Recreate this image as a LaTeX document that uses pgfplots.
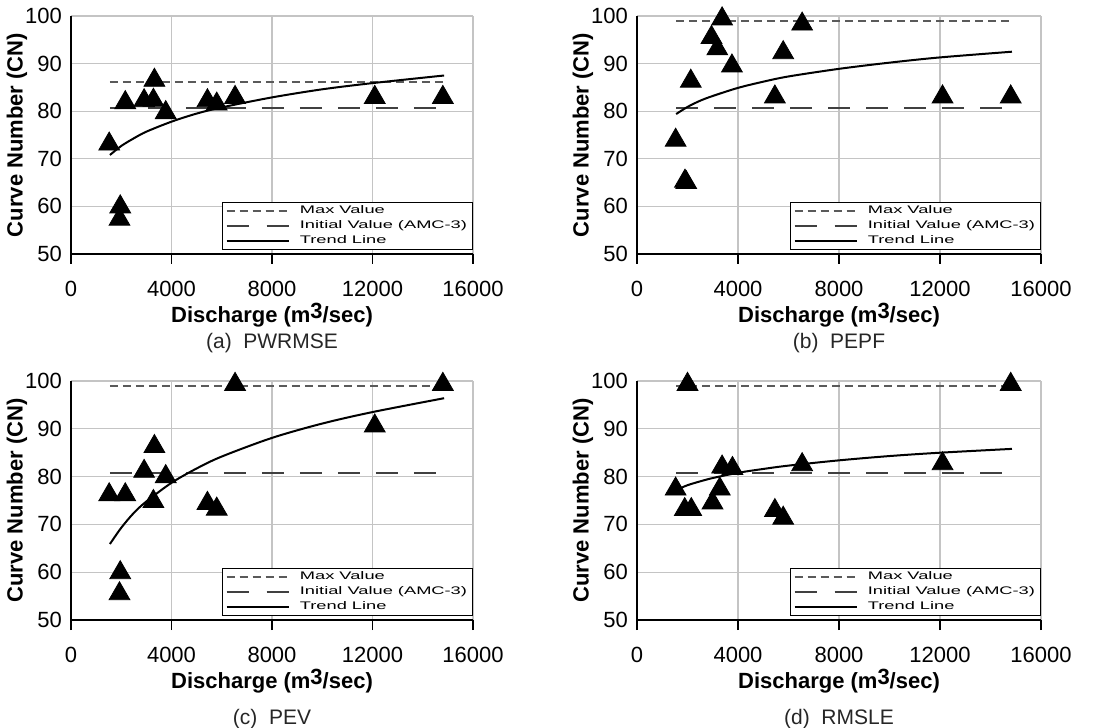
\documentclass[border=0pt]{standalone}
\usepackage{fontspec}
\setmainfont{Liberation Sans}
\usepackage{pgfplots}
\pgfplotsset{compat=1.18}

\definecolor{gridgray}{HTML}{C4C4C4}
\definecolor{maxgray}{HTML}{5A5A5A}
\definecolor{initgray}{HTML}{404040}

\newcommand{\leg}[1]{\scalebox{1.66}[1]{#1}}

\pgfplotsset{
  cnax/.style={
    scale only axis, width=201pt, height=119pt,
    xmin=0, xmax=16000, ymin=50, ymax=100,
    xtick={0,4000,8000,12000,16000}, ytick={50,60,70,80,90,100},
    scaled x ticks=false,
    /pgf/number format/1000 sep={},
    /pgf/number format/assume math mode=true,
    axis lines*=left,
    axis line style={black, line width=0.7pt},
    grid=major, major grid style={gridgray, line width=0.6pt},
    xtick align=outside, ytick align=inside,
    major tick length=5pt,
    x tick style={black, line width=0.6pt},
    y tick style={gridgray, line width=0.6pt},
    yticklabel style={xshift=-1pt},
    xticklabel style={yshift=-5pt},
    tick label style={font=\fontsize{11}{13}\selectfont},
    xlabel={Discharge (m\raisebox{0.35ex}{3}/sec)},
    ylabel={Curve Number (CN)},
    label style={font=\bfseries\fontsize{11}{13}\selectfont},
    xlabel style={at={(rel axis cs:0.5,0)}, anchor=center, yshift=-30.5pt},
    ylabel style={at={(rel axis cs:0,0.5)}, anchor=center, yshift=27pt},
    legend style={at={(rel axis cs:1,0.016)}, anchor=south east,
      draw=black, line width=0.6pt, fill=white,
      font=\fontsize{5.5}{6}\selectfont,
      inner xsep=1.5pt, inner ysep=0.5pt, row sep=-0.5pt,
      nodes={inner sep=1.2pt}},
    legend cell align=left,
    % tick marks below the discharge axis
    extra description/.code={
      \foreach \t in {0,0.25,0.5,0.75,1}
        \draw[black, line width=0.6pt] (rel axis cs:\t,0) -- ++(0pt,-5pt);
    },
  },
  maxline/.style={maxgray, line width=0.9pt, dash pattern=on 4pt off 2.5pt,
    legend image code/.code={\draw[##1] (0pt,0pt) -- (31pt,0pt); \path (35pt,0pt);}},
  initline/.style={initgray, line width=1pt, dash pattern=on 11pt off 8pt,
    legend image code/.code={\draw[##1, dash pattern=on 11pt off 9pt] (0pt,0pt) -- (31pt,0pt); \path (35pt,0pt);}},
  trendline/.style={black, line width=1pt, smooth,
    legend image code/.code={\draw[##1] (0pt,0pt) -- (31pt,0pt); \path (35pt,0pt);}},
  pts/.style={only marks, mark=triangle*, mark size=6pt, black, forget plot},
}

\begin{document}
\begin{tikzpicture}
\useasboundingbox (0,0) rectangle (559.5pt,-364pt);

% (a) PWRMSE
\begin{axis}[cnax, at={(35.5pt,-8pt)}, anchor=north west]
  \addplot[maxline] coordinates {(1550,86.2) (14850,86.2)};
  \addlegendentry{\leg{Max Value}}
  \addplot[initline] coordinates {(1550,80.7) (14850,80.7)};
  \addlegendentry{\leg{Initial Value (AMC-3)}}
  \addplot[trendline] coordinates {(1550,70.8) (2000,72.7) (2500,74.3) (3000,75.7)
    (4000,77.8) (5000,79.5) (6000,80.8) (8000,82.9) (10000,84.6) (12000,85.9) (14850,87.5)};
  \addlegendentry{\leg{Trend Line}}
  \addplot[pts] coordinates {(1520,73.1) (1960,59.9) (1930,57.3) (2160,81.8) (2910,82.2)
    (3280,82.3) (3320,86.5) (3770,79.7) (5430,82.2) (5800,81.5) (6530,82.9)
    (12090,82.9) (14800,82.9)};
\end{axis}

% (b) PEPF
\begin{axis}[cnax, at={(318.5pt,-8pt)}, anchor=north west, width=202pt]
  \addplot[maxline] coordinates {(1550,99) (14850,99)};
  \addlegendentry{\leg{Max Value}}
  \addplot[initline] coordinates {(1550,80.7) (14850,80.7)};
  \addlegendentry{\leg{Initial Value (AMC-3)}}
  \addplot[trendline] coordinates {(1550,79.4) (2000,80.9) (2500,82.2) (3000,83.2)
    (4000,84.9) (5000,86.2) (6000,87.3) (8000,88.9) (10000,90.2) (12000,91.3) (14850,92.5)};
  \addlegendentry{\leg{Trend Line}}
  \addplot[pts] coordinates {(1530,73.9) (1900,65.3) (1950,65.0) (2130,86.3) (2950,95.5)
    (3180,93.1) (3370,99.4) (3760,89.5) (5460,83.0) (5790,92.3) (6540,98.3)
    (12100,83.0) (14800,83.0)};
\end{axis}

% (c) PEV
\begin{axis}[cnax, at={(35.5pt,-190.5pt)}, anchor=north west, height=119.5pt]
  \addplot[maxline] coordinates {(1550,99) (14850,99)};
  \addlegendentry{\leg{Max Value}}
  \addplot[initline] coordinates {(1550,80.7) (14850,80.7)};
  \addlegendentry{\leg{Initial Value (AMC-3)}}
  \addplot[trendline] coordinates {(1550,65.9) (2000,69.3) (2500,72.4) (3000,74.8)
    (4000,78.7) (5000,81.7) (6000,84.2) (8000,88.1) (10000,91.1) (12000,93.5) (14850,96.4)};
  \addlegendentry{\leg{Trend Line}}
  \addplot[pts] coordinates {(1520,76.2) (2160,76.2) (1960,59.9) (1930,55.5) (2910,81.1)
    (3280,74.8) (3320,86.3) (3770,80.0) (5430,74.4) (5800,73.2) (6530,99.3)
    (12090,90.6) (14800,99.3)};
\end{axis}

% (d) RMSLE
\begin{axis}[cnax, at={(318.5pt,-190.5pt)}, anchor=north west, width=202pt, height=119.5pt]
  \addplot[maxline] coordinates {(1550,99) (14850,99)};
  \addlegendentry{\leg{Max Value}}
  \addplot[initline] coordinates {(1550,80.7) (14850,80.7)};
  \addlegendentry{\leg{Initial Value (AMC-3)}}
  \addplot[trendline] coordinates {(1550,77.2) (2000,78.2) (2500,79.0) (3000,79.7)
    (4000,80.8) (5000,81.6) (6000,82.3) (8000,83.4) (10000,84.3) (12000,85.0) (14850,85.8)};
  \addlegendentry{\leg{Trend Line}}
  \addplot[pts] coordinates {(1530,77.4) (1890,73.1) (2150,73.1) (2000,99.3) (2990,74.5)
    (3280,77.4) (3370,82.0) (3780,81.7) (5460,72.9) (5790,71.3) (6540,82.5)
    (12100,82.7) (14800,99.3)};
\end{axis}

\begin{scope}[every node/.style={font=\fontsize{10.5}{12}\selectfont, text=black!85}]
  \node at (136pt,-171.5pt) {(a)\ \ PWRMSE};
  \node at (419.5pt,-171.5pt) {(b)\ \ PEPF};
  \node at (136pt,-359.5pt) {(c)\ \ PEV};
  \node at (419.5pt,-359.5pt) {(d)\ \ RMSLE};
\end{scope}
\end{tikzpicture}
\end{document}
